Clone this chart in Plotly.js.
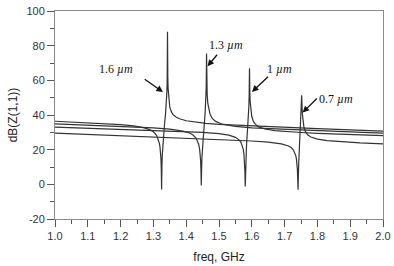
<!DOCTYPE html>
<html>
<head>
<meta charset="utf-8">
<script src="https://cdn.plot.ly/plotly-3.0.1.min.js"></script>
<style>html,body{margin:0;padding:0;background:#fff;}#chart{width:394px;height:266px;}</style>
</head>
<body>
<div id="chart"></div>
<script>
// 1.6 um
var freqA = [1.00,1.05,1.10,1.15,1.20,1.24,1.27,1.29,1.30,1.31,1.315,1.318,1.320,1.322,1.323,1.324,1.325,1.326,1.327,1.329,1.331,1.334,1.337,1.339,1.341,1.342,1.343,1.344,1.345,1.347,1.350,1.355,1.36,1.37,1.38,1.40,1.43,1.46,1.50,1.60,1.70,1.80,1.90,2.00];
var dbA = [36.4,36.0,35.6,35.1,34.45,33.7,32.7,31.4,30.3,28.1,25.9,23.8,21.6,18.0,14.9,9.3,-3.0,10.2,16.7,23.9,28.8,34.8,40.8,45.7,52.9,59.4,88.0,60.4,54.8,49.6,44.5,41.8,40.2,38.7,37.8,36.7,35.8,35.2,34.6,33.65,32.85,32.1,31.4,30.7];
// 1.3 um
var freqB = [1.00,1.10,1.20,1.30,1.35,1.39,1.41,1.42,1.43,1.435,1.438,1.441,1.443,1.444,1.445,1.446,1.447,1.448,1.450,1.452,1.454,1.456,1.458,1.460,1.461,1.462,1.463,1.464,1.466,1.469,1.473,1.48,1.49,1.51,1.55,1.60,1.70,1.80,1.90,2.00];
var dbB = [34.9,34.2,33.5,32.55,31.8,30.7,29.6,28.6,26.7,24.9,23.1,20.2,16.6,13.5,8.0,-0.6,9.1,15.7,23.0,28.2,32.6,37.0,42.1,49.4,56.1,75.5,57.2,51.6,46.5,42.8,40.3,37.9,36.3,34.7,33.4,32.6,31.7,30.9,30.25,29.6];
// 1 um
var freqC = [1.00,1.10,1.20,1.30,1.40,1.45,1.50,1.53,1.55,1.56,1.567,1.571,1.574,1.576,1.578,1.579,1.580,1.581,1.582,1.584,1.586,1.588,1.590,1.591,1.592,1.593,1.594,1.595,1.597,1.600,1.605,1.61,1.62,1.64,1.67,1.70,1.75,1.80,1.90,2.00];
var dbC = [33.0,32.4,31.8,31.2,30.45,29.95,29.2,28.35,27.1,25.8,24.2,22.4,20.2,17.6,12.7,7.3,-1.2,8.6,15.4,23.1,28.8,34.2,40.6,44.9,51.7,67.0,53.0,47.6,42.7,39.1,36.3,34.85,33.3,31.9,30.95,30.4,29.9,29.4,28.7,28.1];
// 0.7 um
var freqD = [1.00,1.10,1.20,1.30,1.40,1.50,1.60,1.65,1.69,1.71,1.72,1.727,1.731,1.734,1.736,1.738,1.739,1.740,1.741,1.742,1.743,1.745,1.747,1.749,1.750,1.751,1.752,1.753,1.754,1.756,1.759,1.763,1.77,1.78,1.80,1.83,1.87,1.93,2.00];
var dbD = [29.6,28.9,28.2,27.5,26.7,25.9,25.0,24.3,23.3,22.25,21.2,19.8,18.4,16.6,14.7,11.4,8.5,3.2,-3.1,4.8,11.7,19.9,26.3,33.2,37.8,44.7,51.4,46.3,41.0,36.2,32.9,30.7,28.6,27.3,26.1,25.2,24.6,23.9,23.3];

var yTickVals = [-20, 0, 20, 40, 60, 80, 100];
var yTickText = ['-20', '0', '20', '40', '60', '80', '100'];

var labelTexts = ['1.6 <i>\u00b5m</i>', '1.3 <i>\u00b5m</i>', '1 <i>\u00b5m</i>', '0.7 <i>\u00b5m</i>'];
var labelX = [1.187, 1.520, 1.684, 1.856];
var labelY = [66.8, 80.2, 66.8, 49.1];
var headX = [1.329, 1.465, 1.6006, 1.755];
var headY = [53.3, 68.1, 53.3, 41.4];
var tailX = [1.269, 1.498, 1.654, 1.803];
var tailY = [61.2, 75.6, 62.9, 50.4];

var lineStyle = {color: '#333333', width: 1.2};
var series = [[freqA, dbA], [freqB, dbB], [freqC, dbC], [freqD, dbD]];
var traces = series.map(function (s) {
  return {x: s[0], y: s[1], type: 'scatter', mode: 'lines', line: lineStyle, hoverinfo: 'none'};
});

var annotations = [];
for (var i = 0; i < labelTexts.length; i++) {
  annotations.push({x: labelX[i], y: labelY[i], xref: 'x', yref: 'y', text: labelTexts[i], showarrow: false,
    font: {family: 'Liberation Serif, Times New Roman, serif', size: 12, color: '#111'}});
  annotations.push({x: headX[i], y: headY[i], xref: 'x', yref: 'y', ax: tailX[i], ay: tailY[i], axref: 'x', ayref: 'y',
    text: '', showarrow: true, arrowhead: 2, arrowsize: 1, arrowwidth: 1.3, arrowcolor: '#111'});
}

var axisCommon = {
  showgrid: false, zeroline: false, showline: true, mirror: true, linecolor: '#8a8a8a', linewidth: 1,
  ticks: 'outside', ticklen: 7, tickcolor: '#555', tickwidth: 1,
  tickfont: {family: 'Liberation Sans, Arial, sans-serif', size: 11, color: '#333'}
};

var layout = {
  width: 394, height: 266,
  margin: {l: 55, r: 11, t: 11, b: 47},
  paper_bgcolor: '#fff', plot_bgcolor: '#fff',
  showlegend: false,
  xaxis: Object.assign({}, axisCommon, {
    range: [1, 2], dtick: 0.1, tick0: 1, tickformat: '.1f',
    minor: {dtick: 0.05, ticks: 'outside', ticklen: 4, tickcolor: '#555'},
    title: {text: 'freq, GHz', font: {family: 'Liberation Sans, Arial, sans-serif', size: 12, color: '#222'}, standoff: 11}
  }),
  yaxis: Object.assign({}, axisCommon, {
    range: [-20, 100], tickmode: 'array', tickvals: yTickVals, ticktext: yTickText,
    minor: {dtick: 10, tick0: 0, ticks: 'outside', ticklen: 4, tickcolor: '#555'},
    title: {text: 'dB(Z(1,1))', font: {family: 'Liberation Sans, Arial, sans-serif', size: 12, color: '#222'}, standoff: 6}
  }),
  annotations: annotations
};

Plotly.newPlot('chart', traces, layout, {displayModeBar: false, staticPlot: true});
</script>
</body>
</html>
